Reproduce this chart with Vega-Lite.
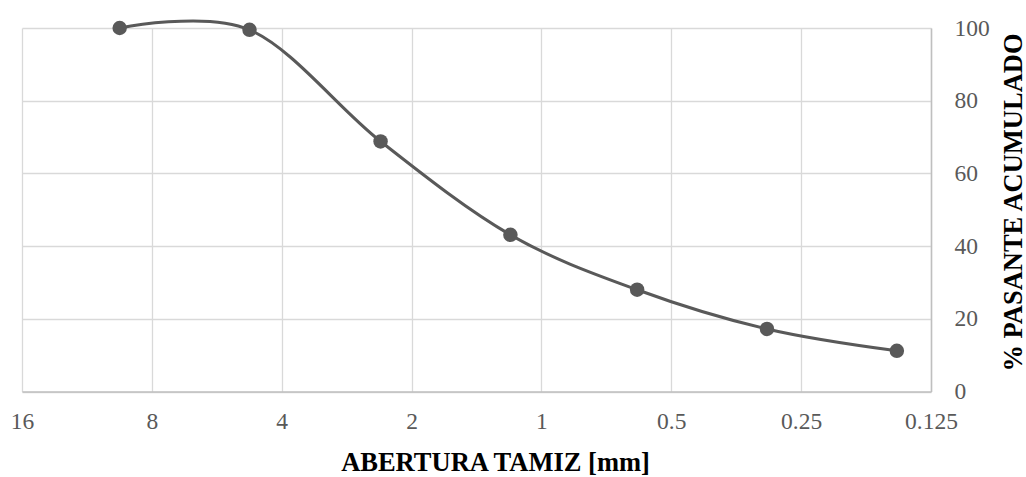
{
  "$schema": "https://vega.github.io/schema/vega-lite/v6.json",
  "autosize": {"type": "none"},
  "padding": {"left": 22, "top": 28, "right": 95, "bottom": 85.5},
  "width": 909,
  "height": 363.5,
  "background": "white",
  "config": {
    "view": {"stroke": null},
    "font": "Liberation Serif"
  },
  "data": {
    "values": [
      {"abertura": 9.5, "pasante": 100},
      {"abertura": 4.75, "pasante": 99.5},
      {"abertura": 2.36, "pasante": 68.8},
      {"abertura": 1.18, "pasante": 43.1},
      {"abertura": 0.6, "pasante": 28.0},
      {"abertura": 0.3, "pasante": 17.2},
      {"abertura": 0.15, "pasante": 11.2}
    ]
  },
  "encoding": {
    "x": {
      "field": "abertura",
      "type": "quantitative",
      "scale": {"type": "log", "base": 2, "domain": [0.125, 16], "reverse": true, "nice": false},
      "axis": {
        "values": [16, 8, 4, 2, 1, 0.5, 0.25, 0.125],
        "format": "~g",
        "title": "ABERTURA TAMIZ [mm]",
        "titleFont": "Liberation Serif",
        "titleFontSize": 26.5,
        "titleFontWeight": "bold",
        "titleColor": "#000000",
        "titleX": 473,
        "titleY": 70.5,
        "titleBaseline": "middle",
        "titleAlign": "center",
        "labelFont": "Liberation Serif",
        "labelFontSize": 23.5,
        "labelColor": "#595959",
        "labelBaseline": "middle",
        "labelPadding": 30,
        "labelFlush": false,
        "labelOverlap": false,
        "ticks": false,
        "grid": true,
        "gridColor": "#d9d9d9",
        "gridWidth": 1.3,
        "domainColor": "#bfbfbf",
        "domainWidth": 1.5
      }
    },
    "y": {
      "field": "pasante",
      "type": "quantitative",
      "scale": {"domain": [0, 100], "nice": false},
      "axis": {
        "orient": "right",
        "values": [0, 20, 40, 60, 80, 100],
        "title": "% PASANTE ACUMULADO",
        "titleFont": "Liberation Serif",
        "titleFontSize": 26.5,
        "titleFontWeight": "bold",
        "titleColor": "#000000",
        "titleAngle": -90,
        "titleX": 82,
        "titleY": 174,
        "titleAlign": "center",
        "titleBaseline": "middle",
        "labelFont": "Liberation Serif",
        "labelFontSize": 23.5,
        "labelColor": "#595959",
        "labelAlign": "left",
        "labelBaseline": "middle",
        "labelPadding": 23,
        "labelFlush": false,
        "ticks": false,
        "grid": true,
        "gridColor": "#d9d9d9",
        "gridWidth": 1.3,
        "domainColor": "#bfbfbf",
        "domainWidth": 1.5
      }
    }
  },
  "layer": [
    {
      "mark": {"type": "line", "interpolate": "cardinal", "color": "#595959", "strokeWidth": 3}
    },
    {
      "mark": {"type": "point", "filled": true, "shape": "circle", "size": 210, "color": "#595959", "opacity": 1}
    }
  ]
}
